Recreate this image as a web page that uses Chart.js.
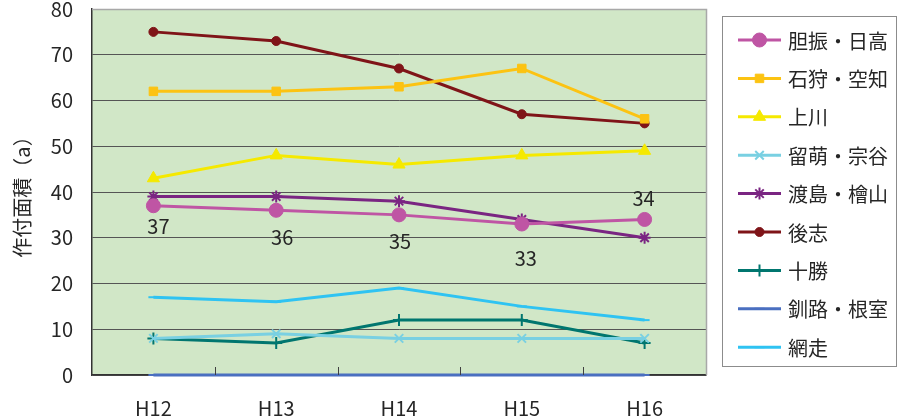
<!DOCTYPE html>
<html>
<head>
<meta charset="utf-8">
<script src="https://cdn.jsdelivr.net/npm/chart.js@4/dist/chart.umd.min.js"></script>
<style>
  html, body { margin: 0; padding: 0; background: #ffffff; }
  #wrap { width: 899px; height: 419px; }
</style>
</head>
<body>
<div id="wrap"><canvas id="c" width="899" height="419"></canvas></div>
<script>
// Planted area (a) by region, fiscal years H12–H16
const years = ['H12', 'H13', 'H14', 'H15', 'H16'];
const iburiHidaka   = [37, 36, 35, 33, 34];
const ishikariSorachi = [62, 62, 63, 67, 56];
const kamikawa      = [43, 48, 46, 48, 49];
const rumoiSoya     = [8, 9, 8, 8, 8];
const oshimaHiyama  = [39, 39, 38, 34, 30];
const shiribeshi    = [75, 73, 67, 57, 55];
const tokachi       = [8, 7, 12, 12, 7];
const kushiroNemuro = [0, 0, 0, 0, 0];
const abashiri      = [17, 16, 19, 15, 12];
const yTicks = [0, 10, 20, 30, 40, 50, 60, 70, 80];

const FONT = '"Noto Sans CJK JP", "Noto Sans", sans-serif';
const TEXT = '#262626';

function series(label, data, color, pointStyle, radius) {
  return {
    label, data,
    borderColor: color,
    backgroundColor: color,
    borderWidth: 3,
    pointStyle,
    pointRadius: radius,
    pointHoverRadius: radius,
    pointBorderWidth: (pointStyle === 'cross' || pointStyle === 'crossRot' || pointStyle === 'star' || pointStyle === 'line') ? 2 : 1,
    pointBorderColor: color,
    pointBackgroundColor: color,
    tension: 0,
    fill: false,
    clip: false
  };
}

const datasets = [
  series('胆振・日高', iburiHidaka, '#bf55a4', 'circle', 7),
  series('石狩・空知', ishikariSorachi, '#fcc312', 'rect', 6),
  series('上川', kamikawa, '#f5e900', 'triangle', 7),
  series('留萌・宗谷', rumoiSoya, '#79d0e2', 'crossRot', 6),
  series('渡島・檜山', oshimaHiyama, '#7a2582', 'star', 6),
  series('後志', shiribeshi, '#7f1418', 'circle', 4.5),
  series('十勝', tokachi, '#00766f', 'cross', 6),
  series('釧路・根室', kushiroNemuro, '#4a6fc0', 'line', 5),
  series('網走', abashiri, '#2fc3f2', 'line', 5)
];

// Plot background and the light top/right frame
const plotFrame = {
  id: 'plotFrame',
  beforeDraw(chart) {
    const { ctx, chartArea: a } = chart;
    ctx.save();
    ctx.fillStyle = '#d1e7c7';
    ctx.fillRect(a.left, a.top, a.right - a.left, a.bottom - a.top);
    ctx.restore();
  },
  afterDraw(chart) {
    const { ctx, chartArea: a, scales: { x } } = chart;
    ctx.save();
    ctx.strokeStyle = '#a8a8a8';
    ctx.lineWidth = 1.5;
    ctx.beginPath();
    ctx.moveTo(a.left, a.top + 0.5);
    ctx.lineTo(a.right + 0.5, a.top + 0.5);
    ctx.lineTo(a.right + 0.5, a.bottom);
    ctx.stroke();
    // inward category separator ticks on the bottom axis
    ctx.strokeStyle = '#404040';
    ctx.lineWidth = 1;
    for (let i = 1; i < years.length; i++) {
      const px = Math.round((x.getPixelForTick(i - 1) + x.getPixelForTick(i)) / 2) + 0.5;
      ctx.beginPath();
      ctx.moveTo(px, a.bottom);
      ctx.lineTo(px, a.bottom - 8);
      ctx.stroke();
    }
    ctx.restore();
  }
};

// Value labels for the first series
const valueLabels = {
  id: 'valueLabels',
  afterDatasetsDraw(chart, args, opts) {
    const { ctx } = chart;
    const meta = chart.getDatasetMeta(0);
    const data = chart.data.datasets[0].data;
    ctx.save();
    ctx.font = '20px ' + FONT;
    ctx.fillStyle = TEXT;
    ctx.textAlign = 'center';
    ctx.textBaseline = 'middle';
    meta.data.forEach((pt, i) => {
      ctx.fillText(String(data[i]), pt.x + opts.dx[i], pt.y + opts.dy[i]);
    });
    ctx.restore();
  }
};

// Boxed legend at the right: line sample with marker, then the name
const sideLegend = {
  id: 'sideLegend',
  afterDraw(chart, args, opts) {
    const { ctx } = chart;
    const box = opts.box;
    ctx.save();
    ctx.fillStyle = '#ffffff';
    ctx.fillRect(box.left, box.top, box.right - box.left, box.bottom - box.top);
    ctx.strokeStyle = '#8c8c8c';
    ctx.lineWidth = 1;
    ctx.strokeRect(box.left + 0.5, box.top + 0.5, box.right - box.left, box.bottom - box.top);
    ctx.font = '20px ' + FONT;
    ctx.textBaseline = 'middle';
    ctx.textAlign = 'left';
    chart.data.datasets.forEach((ds, i) => {
      const y = opts.firstY + i * opts.step;
      ctx.strokeStyle = ds.borderColor;
      ctx.fillStyle = ds.backgroundColor;
      ctx.lineWidth = 3;
      ctx.beginPath();
      ctx.moveTo(opts.lineX0, y);
      ctx.lineTo(opts.lineX1, y);
      ctx.stroke();
      ctx.lineWidth = ds.pointBorderWidth;
      Chart.helpers.drawPoint(ctx, {
        pointStyle: ds.pointStyle,
        radius: ds.pointRadius,
        rotation: 0,
        borderWidth: ds.pointBorderWidth
      }, (opts.lineX0 + opts.lineX1) / 2, y);
      ctx.fillStyle = TEXT;
      ctx.fillText(ds.label, opts.textX, y + 1);
    });
    ctx.restore();
  }
};

new Chart(document.getElementById('c'), {
  type: 'line',
  data: { labels: years, datasets },
  plugins: [plotFrame, valueLabels, sideLegend],
  options: {
    responsive: false,
    animation: false,
    devicePixelRatio: 1,
    layout: { padding: { top: 9, right: 193, left: 0, bottom: 0 } },
    plugins: {
      legend: { display: false },
      title: { display: false },
      subtitle: { display: false },
      tooltip: { enabled: false },
      valueLabels: { dx: [5, 6, 1, 4, -1], dy: [21, 27, 27, 34, -21] },
      sideLegend: {
        box: { left: 722, top: 16, right: 896, bottom: 366 },
        firstY: 40, step: 38.4,
        lineX0: 738, lineX1: 781, textX: 788
      }
    },
    scales: {
      x: {
        offset: true,
        grid: { display: false },
        border: { display: true, color: '#333333', width: 1.5 },
        ticks: { color: TEXT, font: { family: FONT, size: 20 }, padding: 13, maxRotation: 0 },
        afterFit(scale) {
          scale.height = 44;
          scale.paddingLeft = 0; scale.paddingRight = 0;
        }
      },
      y: {
        min: 0, max: 80,
        afterBuildTicks(scale) { scale.ticks = yTicks.map(v => ({ value: v })); },
        grid: { color: '#555555', lineWidth: 1, drawTicks: false },
        border: { display: true, color: '#333333', width: 1.5 },
        ticks: { color: TEXT, font: { family: FONT, size: 20 }, padding: 19 },
        title: {
          display: true,
          text: '作付面積（a）',
          color: TEXT,
          font: { family: FONT, size: 20 },
          padding: { top: 10, bottom: 0 }
        },
        afterFit(scale) {
          scale.width = 92;
          scale.paddingTop = 0; scale.paddingBottom = 0;
        }
      }
    }
  }
});
</script>
</body>
</html>
